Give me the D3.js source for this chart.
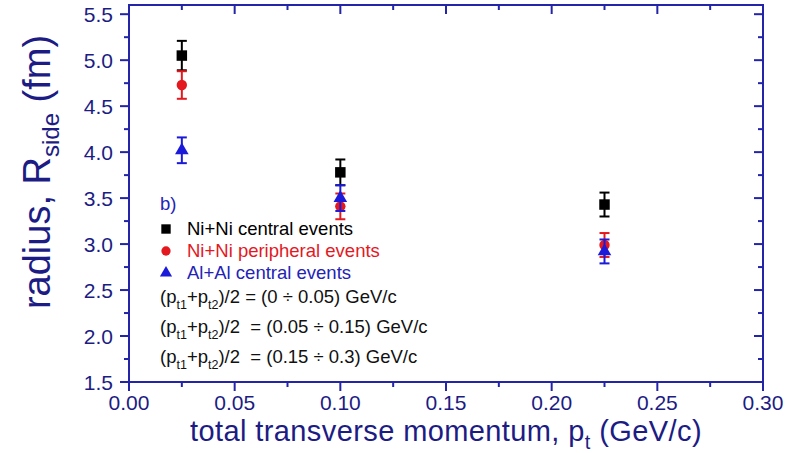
<!DOCTYPE html>
<html><head><meta charset="utf-8">
<script src="https://cdn.jsdelivr.net/npm/d3@7"></script>
<style>body{margin:0;background:#fff}svg{display:block;font-family:"Liberation Sans",Arial,sans-serif}</style>
</head><body><svg id="c" width="795" height="453"></svg>
<script>
const pt = [0.025, 0.1, 0.225];
const niniCentral = [5.05, 3.78, 3.43];
const niniCentralErr = [0.16, 0.14, 0.13];
const niniPeripheral = [4.73, 3.41, 2.99];
const niniPeripheralErr = [0.15, 0.14, 0.13];
const alalCentral = [4.02, 3.50, 2.92];
const alalCentralErr = [0.14, 0.14, 0.13];
const xTicks = [0, 0.05, 0.1, 0.15, 0.2, 0.25, 0.3];
const yTicks = [1.5, 2.0, 2.5, 3.0, 3.5, 4.0, 4.5, 5.0, 5.5];
const seriesNames = ["Ni+Ni central events", "Ni+Ni peripheral events", "Al+Al central events"];
const ranges = [["= (0 \u00f7 0.05) GeV/c", " "], ["= (0.05 \u00f7 0.15) GeV/c", "  "], ["= (0.15 \u00f7 0.3) GeV/c", "  "]];

const axisCol = "#2424a8", textCol = "#1c1c84";
const colors = ["#000000", "#e3191f", "#1a1ad8"];
const legendText = ["#000000", "#e3191f", "#2323b8"];
const series = [
  {v: niniCentral, e: niniCentralErr, shape: d3.symbolSquare, size: 110},
  {v: niniPeripheral, e: niniPeripheralErr, shape: d3.symbolCircle, size: 85},
  {v: alalCentral, e: alalCentralErr, shape: d3.symbolTriangle, size: 80}
];

const L = 129, R = 763, T = 5, B = 382;
const x = d3.scaleLinear().domain([0, 0.3]).range([L, R]);
const y = d3.scaleLinear().domain([1.5, 5.6]).range([B, T]);
const svg = d3.select("#c");

// frame
svg.append("rect").attr("x", L).attr("y", T).attr("width", R - L).attr("height", B - T)
  .attr("fill", "none").attr("stroke", axisCol).attr("stroke-width", 2);

const xMinor = d3.range(0.025, 0.3, 0.05);
const yMinor = d3.range(1.75, 5.6, 0.5);
const tk = svg.append("g").attr("stroke", axisCol).attr("stroke-width", 2);
xTicks.forEach(v => {
  tk.append("line").attr("x1", x(v)).attr("x2", x(v)).attr("y1", B).attr("y2", B + 9);
  tk.append("line").attr("x1", x(v)).attr("x2", x(v)).attr("y1", T).attr("y2", T + 9);
});
xMinor.forEach(v => {
  tk.append("line").attr("x1", x(v)).attr("x2", x(v)).attr("y1", B).attr("y2", B + 5);
  tk.append("line").attr("x1", x(v)).attr("x2", x(v)).attr("y1", T).attr("y2", T + 5);
});
yTicks.forEach(v => {
  tk.append("line").attr("y1", y(v)).attr("y2", y(v)).attr("x1", L).attr("x2", L - 9);
  tk.append("line").attr("y1", y(v)).attr("y2", y(v)).attr("x1", R).attr("x2", R - 9);
});
yMinor.forEach(v => {
  tk.append("line").attr("y1", y(v)).attr("y2", y(v)).attr("x1", L).attr("x2", L - 5);
  tk.append("line").attr("y1", y(v)).attr("y2", y(v)).attr("x1", R).attr("x2", R - 5);
});

// tick labels
svg.append("g").selectAll("text").data(xTicks).join("text")
  .attr("x", d => x(d)).attr("y", 410).attr("text-anchor", "middle")
  .attr("font-size", 21).attr("fill", textCol).text(d => d3.format(".2f")(d));
svg.append("g").selectAll("text").data(yTicks).join("text")
  .attr("x", 113).attr("y", d => y(d) + 7.5).attr("text-anchor", "end")
  .attr("font-size", 21).attr("fill", textCol).text(d => d3.format(".1f")(d));

// axis titles
const xt = svg.append("text").attr("x", 446).attr("y", 441).attr("text-anchor", "middle")
  .attr("font-size", 29).attr("letter-spacing", 0.4).attr("fill", textCol);
xt.append("tspan").text("total transverse momentum, p");
xt.append("tspan").attr("font-size", 20).attr("dy", 8).text("t");
xt.append("tspan").attr("dy", -8).text(" (GeV/c)");

const yt = svg.append("text").attr("transform", "translate(50,172) rotate(-90)")
  .attr("text-anchor", "middle").attr("font-size", 38).attr("fill", textCol);
yt.append("tspan").text("radius, R");
yt.append("tspan").attr("font-size", 24).attr("dy", 9).text("side");
yt.append("tspan").attr("dy", -9).text(" (fm)");

// data
series.forEach((s, i) => {
  const g = svg.append("g").attr("stroke", colors[i]).attr("stroke-width", 2);
  pt.forEach((p, j) => {
    const cx = x(p), yt_ = y(s.v[j] + s.e[j]), yb = y(s.v[j] - s.e[j]);
    g.append("line").attr("x1", cx).attr("x2", cx).attr("y1", yt_).attr("y2", yb);
    g.append("line").attr("x1", cx - 5).attr("x2", cx + 5).attr("y1", yt_).attr("y2", yt_);
    g.append("line").attr("x1", cx - 5).attr("x2", cx + 5).attr("y1", yb).attr("y2", yb);
  });
  svg.append("g").selectAll("path").data(pt).join("path")
    .attr("transform", (p, j) => `translate(${x(p)},${y(s.v[j])})`)
    .attr("d", d3.symbol().type(s.shape).size(s.size)).attr("fill", colors[i]);
});

// legend
svg.append("text").attr("x", 160).attr("y", 210).attr("font-size", 18.5).attr("fill", "#2323b8").text("b)");
const ly = [229, 251, 273];
series.forEach((s, i) => {
  svg.append("path").attr("transform", `translate(166,${ly[i]})`)
    .attr("d", d3.symbol().type(s.shape).size(s.size * 0.8)).attr("fill", colors[i]);
  svg.append("text").attr("x", 187).attr("y", ly[i] + 6).attr("font-size", 18.5)
    .attr("fill", legendText[i]).text(seriesNames[i]);
});
const fy = [303, 333, 363];
ranges.forEach((r, i) => {
  const t = svg.append("text").attr("x", 160).attr("y", fy[i]).attr("font-size", 18.5)
    .attr("fill", "#111").attr("xml:space", "preserve").style("white-space", "pre");
  t.append("tspan").text("(p");
  t.append("tspan").attr("font-size", 12.5).attr("dy", 6).text("t1");
  t.append("tspan").attr("dy", -6).text("+p");
  t.append("tspan").attr("font-size", 12.5).attr("dy", 6).text("t2");
  t.append("tspan").attr("dy", -6).text(")/2" + r[1] + r[0]);
});
</script></body></html>
